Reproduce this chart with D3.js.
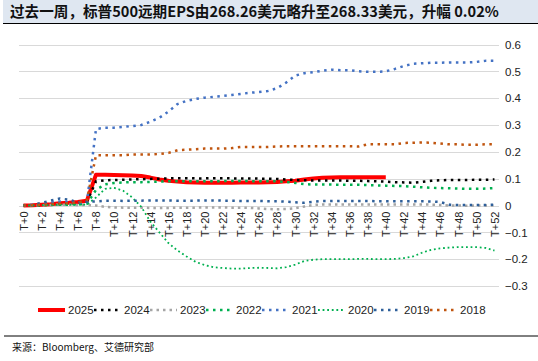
<!DOCTYPE html>
<html>
<head>
<meta charset="utf-8">
<script src="https://cdn.jsdelivr.net/npm/d3@7"></script>
<style>
  body { margin: 0; background: #fff; }
  svg { display: block; }
</style>
</head>
<body>
<script>
//categories, one per week
var weeks = ["T+0","T+1","T+2","T+3","T+4","T+5","T+6","T+7","T+8","T+9",
  "T+10","T+11","T+12","T+13","T+14","T+15","T+16","T+17","T+18","T+19",
  "T+20","T+21","T+22","T+23","T+24","T+25","T+26","T+27","T+28","T+29",
  "T+30","T+31","T+32","T+33","T+34","T+35","T+36","T+37","T+38","T+39",
  "T+40","T+41","T+42","T+43","T+44","T+45","T+46","T+47","T+48","T+49",
  "T+50","T+51","T+52"];

//series values (change vs T+0)
var y2025 = [0, 0.001, 0.003, 0.005, 0.008, 0.01, 0.013, 0.018,
  0.115, 0.115, 0.114, 0.113, 0.112, 0.11, 0.104, 0.097,
  0.092, 0.089, 0.087, 0.086, 0.085, 0.085, 0.085, 0.085,
  0.086, 0.086, 0.086, 0.087, 0.088, 0.09, 0.092, 0.097,
  0.101, 0.103, 0.104, 0.105, 0.105, 0.105, 0.105, 0.105, 0.105];
var y2024 = [0, 0, 0.002, 0.004, 0.006, 0.008, 0.01, 0.014,
  0.09, 0.094, 0.095, 0.096, 0.097, 0.098, 0.099, 0.1,
  0.101, 0.102, 0.102, 0.101, 0.101, 0.102, 0.102, 0.101,
  0.101, 0.101, 0.1, 0.1, 0.099, 0.097, 0.095, 0.094,
  0.093, 0.093, 0.093, 0.093, 0.092, 0.092, 0.091, 0.09,
  0.089, 0.087, 0.086, 0.085, 0.088, 0.092, 0.094, 0.095,
  0.095, 0.095, 0.096, 0.096, 0.097];
var y2023 = [0, 0, 0.001, 0.002, 0.003, 0.003, 0.002, 0.002,
  0, -0.005, -0.007, -0.008, -0.008, -0.008, -0.009, -0.009,
  -0.009, -0.008, -0.008, -0.008, -0.007, -0.007, -0.007, -0.008,
  -0.008, -0.009, -0.011, -0.013, -0.014, -0.013, -0.01, -0.004,
  0.002, 0.004, 0.004, 0.004, 0.004, 0.004, 0.004, 0.004,
  0.004, 0.004, 0.004, 0.004, 0.004, 0.003, 0.002, 0,
  0, -0.001, 0, 0, 0];
var y2022 = [0, 0, 0.001, 0.002, 0.003, 0.003, 0.004, 0.006,
  0.058, 0.079, 0.084, 0.086, 0.087, 0.087, 0.088, 0.089,
  0.09, 0.09, 0.09, 0.09, 0.09, 0.09, 0.091, 0.091,
  0.091, 0.091, 0.09, 0.09, 0.09, 0.088, 0.084, 0.08,
  0.078, 0.078, 0.078, 0.077, 0.077, 0.077, 0.076, 0.075,
  0.074, 0.073, 0.072, 0.07, 0.068, 0.066, 0.065, 0.064,
  0.063, 0.062, 0.062, 0.063, 0.065];
var y2021 = [0, 0.002, 0.005, 0.01, 0.015, 0.013, 0.01, 0.012,
  0.285, 0.29, 0.29, 0.293, 0.296, 0.3, 0.312, 0.327,
  0.35, 0.378, 0.39, 0.397, 0.402, 0.405, 0.408, 0.412,
  0.416, 0.42, 0.423, 0.427, 0.437, 0.458, 0.484, 0.493,
  0.497, 0.502, 0.506, 0.504, 0.504, 0.5, 0.498, 0.498,
  0.5, 0.509, 0.52, 0.528, 0.53, 0.532, 0.532, 0.533,
  0.533, 0.533, 0.535, 0.539, 0.539];
var y2020 = [0, 0, 0.001, 0.002, 0.003, 0.003, 0.003, 0.003,
  0.03, 0.062, 0.066, 0.055, 0.03, -0.005, -0.06, -0.1,
  -0.14, -0.168, -0.19, -0.21, -0.222, -0.23, -0.233, -0.235,
  -0.235, -0.233, -0.232, -0.233, -0.234, -0.23, -0.22, -0.207,
  -0.202, -0.2, -0.2, -0.2, -0.2, -0.199, -0.199, -0.2,
  -0.2, -0.199, -0.196, -0.19, -0.176, -0.165, -0.16, -0.157,
  -0.155, -0.155, -0.155, -0.158, -0.168];
var y2019 = [0, 0.003, 0.01, 0.018, 0.026, 0.022, 0.012, 0.014,
  0.015, 0.018, 0.018, 0.017, 0.018, 0.018, 0.019, 0.019,
  0.019, 0.018, 0.018, 0.018, 0.019, 0.019, 0.018, 0.018,
  0.017, 0.017, 0.017, 0.016, 0.016, 0.014, 0.012, 0.01,
  0.014, 0.017, 0.017, 0.017, 0.017, 0.017, 0.017, 0.016,
  0.016, 0.016, 0.016, 0.016, 0.016, 0.015, 0.013, 0.003,
  0.002, 0.002, 0.002, 0.002, 0.003];
var y2018 = [0, 0.001, 0.003, 0.005, 0.007, 0.009, 0.011, 0.02,
  0.187, 0.187, 0.187, 0.187, 0.19, 0.19, 0.19, 0.192,
  0.196, 0.206, 0.208, 0.21, 0.212, 0.212, 0.212, 0.214,
  0.218, 0.218, 0.218, 0.218, 0.22, 0.221, 0.221, 0.221,
  0.221, 0.221, 0.221, 0.221, 0.221, 0.22, 0.228, 0.228,
  0.228, 0.228, 0.233, 0.234, 0.235, 0.234, 0.231, 0.228,
  0.228, 0.226, 0.226, 0.228, 0.228];

var seriesNames = ["2025", "2024", "2023", "2022", "2021", "2020", "2019", "2018"];
var yTicks = [0.6, 0.5, 0.4, 0.3, 0.2, 0.1, 0, -0.1, -0.2, -0.3];

var titleText = "过去一周，标普500远期EPS由268.26美元略升至268.33美元，升幅 0.02%";
var sourceText = "来源：Bloomberg、艾德研究部";

//line styles per series
var styles = {
  "2025": {color: "#ff0000", width: 4, dash: null},
  "2024": {color: "#000000", width: 2.5, dash: "2.5,4.5"},
  "2023": {color: "#a5a5a5", width: 2.5, dash: "2.5,4"},
  "2022": {color: "#00b050", width: 2.5, dash: "2.5,4.5"},
  "2021": {color: "#4472c4", width: 2.5, dash: "2.5,4.5"},
  "2020": {color: "#00b050", width: 1.8, dash: "1.8,2.8"},
  "2019": {color: "#2e5f9a", width: 2.5, dash: "2.5,4.5"},
  "2018": {color: "#c0550f", width: 2.5, dash: "2.5,4.5"}
};

var seriesData = {
  "2025": y2025, "2024": y2024, "2023": y2023, "2022": y2022,
  "2021": y2021, "2020": y2020, "2019": y2019, "2018": y2018
};

var width = 538, height = 361;

var svg = d3.select("body").append("svg")
    .attr("width", width)
    .attr("height", height);

//title band
svg.append("rect")
    .attr("x", 3).attr("y", 0)
    .attr("width", width - 3).attr("height", 23)
    .attr("fill", "#dfe7f1");
svg.append("line")
    .attr("x1", 3).attr("x2", width)
    .attr("y1", 23.5).attr("y2", 23.5)
    .attr("stroke", "#000").attr("stroke-width", 1.2);
svg.append("text")
    .attr("x", 10).attr("y", 17)
    .attr("font-family", "'Noto Sans CJK SC', sans-serif")
    .attr("font-weight", "bold")
    .attr("font-size", 14.6)
    .attr("fill", "#111")
    .text(titleText);

//scales
var x = d3.scalePoint()
    .domain(weeks)
    .range([19, 499])
    .padding(0.5);

var y = d3.scaleLinear()
    .domain([-0.3, 0.6])
    .range([286, 44.5]);

//gridlines
svg.append("g")
    .selectAll("line")
    .data(yTicks)
    .enter()
  .append("line")
    .attr("x1", 19).attr("x2", 499)
    .attr("y1", function(d) { return Math.round(y(d)) + 0.5; })
    .attr("y2", function(d) { return Math.round(y(d)) + 0.5; })
    .attr("stroke", "#d9d9d9")
    .attr("stroke-width", 1);

//right y axis labels
var yAxis = d3.axisRight(y)
    .tickValues(yTicks)
    .tickSize(0)
    .tickPadding(0)
    .tickFormat(function(d) { return d3.format("")(Math.round(d * 10) / 10); });

svg.append("g")
    .attr("transform", "translate(505,0)")
    .call(yAxis)
    .call(function(g) { g.select(".domain").remove(); })
    .selectAll("text")
    .attr("font-family", "'Liberation Sans', Arial, sans-serif")
    .attr("font-size", 11.5)
    .attr("fill", "#222");

//x axis labels, rotated, every second week
var xAxis = d3.axisBottom(x)
    .tickValues(weeks.filter(function(d, i) { return i % 2 === 0; }))
    .tickSize(0);

var xg = svg.append("g")
    .attr("transform", "translate(0," + y(0) + ")")
    .call(xAxis);
xg.select(".domain").remove();
xg.selectAll("text")
    .attr("font-family", "'Liberation Sans', Arial, sans-serif")
    .attr("font-size", 11)
    .attr("fill", "#222")
    .attr("text-anchor", "end")
    .attr("transform", "rotate(-90)")
    .attr("x", -6)
    .attr("y", 0)
    .attr("dy", "0.35em");

//lines
var line = d3.line()
    .x(function(d, i) { return x(weeks[i]); })
    .y(function(d) { return y(d); });

var lines = svg.append("g");
seriesNames.forEach(function(name) {
  var st = styles[name];
  lines.append("path")
      .attr("d", line(seriesData[name]))
      .attr("fill", "none")
      .attr("stroke", st.color)
      .attr("stroke-width", st.width)
      .attr("stroke-dasharray", st.dash)
      .attr("stroke-linejoin", "round");
});

//legend
var legend = svg.append("g")
    .selectAll("g")
    .data(seriesNames)
    .enter()
  .append("g")
    .attr("transform", function(d, i) { return "translate(" + (38 + i * 56) + ",310)"; });

legend.append("line")
    .attr("x1", 0).attr("x2", 27)
    .attr("y1", 0).attr("y2", 0)
    .attr("stroke", function(d) { return styles[d].color; })
    .attr("stroke-width", function(d) { return styles[d].width; })
    .attr("stroke-dasharray", function(d) { return styles[d].dash; });

legend.append("text")
    .attr("x", 30).attr("y", 4)
    .attr("font-family", "'Liberation Sans', Arial, sans-serif")
    .attr("font-size", 11.5)
    .attr("fill", "#222")
    .text(function(d) { return d; });

//footer
svg.append("line")
    .attr("x1", 4).attr("x2", width)
    .attr("y1", 336).attr("y2", 336)
    .attr("stroke", "#000").attr("stroke-width", 1);
svg.append("text")
    .attr("x", 12).attr("y", 351)
    .attr("font-family", "'Noto Sans CJK SC', sans-serif")
    .attr("font-size", 10)
    .attr("fill", "#111")
    .text(sourceText);
</script>
</body>
</html>
